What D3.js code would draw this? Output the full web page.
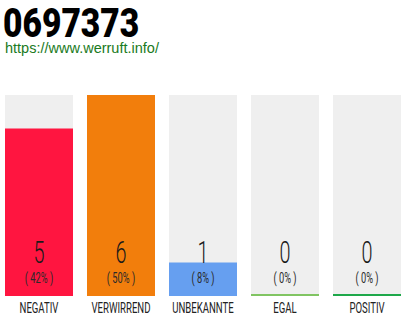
<!DOCTYPE html>
<html>
<head>
<meta charset="utf-8">
<script src="https://cdn.jsdelivr.net/npm/d3@7"></script>
<style>
  html, body { margin: 0; padding: 0; background: #fff; }
  svg { display: block; }
</style>
</head>
<body>
<svg id="chart" width="410" height="320"></svg>
<script>
// Rating categories and their vote counts
const categories = ["NEGATIV", "VERWIRREND", "UNBEKANNTE", "EGAL", "POSITIV"];
const counts = [5, 6, 1, 0, 0];
const percents = ["42%", "50%", "8%", "0%", "0%"];
const colors = ["#ff1540", "#f27e0c", "#669ff0", "#80c462", "#1ea84a"];

const title = "0697373";
const link = "https://www.werruft.info/";

const svg = d3.select("#chart");
const plotTop = 95, plotBottom = 296;

// bands: start at 5, step 82, width 68
const xs = d3.scaleBand()
  .domain(categories)
  .range([5, 401])
  .paddingInner(14 / 82)
  .paddingOuter(0);

const y = d3.scaleLinear().domain([0, d3.max(counts)]).range([plotBottom, plotTop]);

// Title and link
svg.append("text")
  .attr("x", 0).attr("y", 36.5)
  .attr("transform", "translate(3,0) scale(0.84,1)")
  .attr("font-family", "Roboto, sans-serif")
  .attr("font-weight", 900)
  .attr("font-size", 40)
  .attr("fill", "#000")
  .text(title);

svg.append("text")
  .attr("x", 5).attr("y", 53)
  .attr("font-family", "'Liberation Sans', Arial, sans-serif")
  .attr("font-size", 14.5)
  .attr("fill", "#1a7a22")
  .text(link);

const bars = svg.append("g").selectAll("g.bar").data(categories).join("g").attr("class", "bar");

// background track
bars.append("rect")
  .attr("x", d => xs(d))
  .attr("y", plotTop)
  .attr("width", xs.bandwidth())
  .attr("height", plotBottom - plotTop)
  .attr("fill", "#efefef");

// value bar (zero values shown as a thin baseline)
bars.append("rect")
  .attr("x", d => xs(d))
  .attr("y", (d, i) => counts[i] > 0 ? y(counts[i]) : plotBottom - 2)
  .attr("width", xs.bandwidth())
  .attr("height", (d, i) => counts[i] > 0 ? plotBottom - y(counts[i]) : 2)
  .attr("fill", (d, i) => colors[i]);

function condensed(sel, cx, factor) {
  sel.attr("transform", `translate(${cx},0) scale(${factor},1)`).attr("x", 0);
}

// count labels
bars.append("text")
  .each(function(d) {
    d3.select(this).call(condensed, xs(d) + xs.bandwidth() / 2, 0.62);
  })
  .attr("y", 263)
  .attr("text-anchor", "middle")
  .attr("font-family", "Roboto, sans-serif")
  .attr("font-weight", 300)
  .attr("font-size", 32)
  .attr("fill", "#1a1a1a")
  .text((d, i) => counts[i]);

// percentage labels
bars.append("text")
  .each(function(d) {
    d3.select(this).call(condensed, xs(d) + xs.bandwidth() / 2, 0.6);
  })
  .attr("y", 283)
  .attr("text-anchor", "middle")
  .attr("font-family", "Roboto, sans-serif")
  .attr("font-weight", 400)
  .attr("font-size", 15.5)
  .attr("fill", "#2a2a2a")
  .text((d, i) => `( ${percents[i]} )`);

// category labels
bars.append("text")
  .each(function(d) {
    d3.select(this).call(condensed, xs(d) + xs.bandwidth() / 2, 0.64);
  })
  .attr("y", 313)
  .attr("text-anchor", "middle")
  .attr("font-family", "Roboto, sans-serif")
  .attr("font-weight", 400)
  .attr("font-size", 15)
  .attr("fill", "#222")
  .text(d => d);
</script>
</body>
</html>
